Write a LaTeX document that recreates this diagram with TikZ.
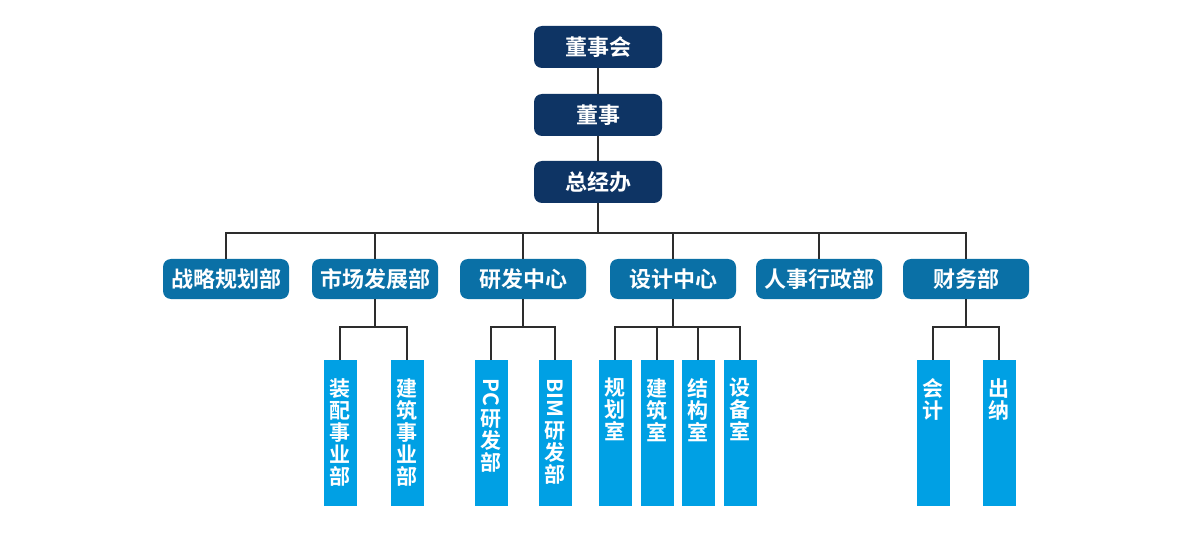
\documentclass[tikz,border=0pt]{standalone}
\usepackage{fontspec}
\usepackage{graphicx}
\newfontfamily\cjk{Noto Sans CJK SC}[BoldFont={Noto Sans CJK SC Bold}]
\definecolor{navy}{RGB}{14,52,100}
\definecolor{midblue}{RGB}{10,112,166}
\definecolor{lightblue}{RGB}{0,160,228}
\definecolor{linegray}{RGB}{45,45,45}
\begin{document}
\begin{tikzpicture}[x=1pt,y=-1pt,
  topbox/.style={fill=navy,rounded corners=8pt,minimum width=128pt,minimum height=42pt,inner sep=0pt,text=white,font=\cjk\bfseries\fontsize{22}{24}\selectfont},
  deptbox/.style={fill=midblue,rounded corners=8pt,minimum width=126pt,minimum height=40pt,inner sep=0pt,text=white,font=\cjk\bfseries\fontsize{22}{24}\selectfont},
  barbox/.style={fill=lightblue,minimum width=33pt,minimum height=146pt,inner sep=0pt,anchor=north},
  bartext/.style={text=white,font=\cjk\bfseries\fontsize{21}{22}\selectfont,align=center,anchor=north,inner sep=0pt},
  conn/.style={draw=linegray,line width=1.4pt}]
\useasboundingbox[fill=white] (0,0) rectangle (1200,548);
% top level
\node[topbox] (dsh) at (598,47) {董事会};
\node[topbox] (ds) at (598,115) {董事};
\node[topbox] (zjb) at (598,182) {总经办};
% departments
\node[deptbox] (zl) at (226,279) {战略规划部};
\node[deptbox] (sc) at (375,279) {市场发展部};
\node[deptbox] (yf) at (523,279) {研发中心};
\node[deptbox] (sj) at (673,279) {设计中心};
\node[deptbox] (rs) at (819,279) {人事行政部};
\node[deptbox] (cw) at (966,279) {财务部};
% bars
\node[barbox] (zp) at (340,360) {};
\node[barbox] (jz) at (407,360) {};
\node[barbox] (pc) at (491,360) {};
\node[barbox] (bim) at (555,360) {};
\node[barbox] (gh) at (615,360) {};
\node[barbox] (jzs) at (657,360) {};
\node[barbox] (jg) at (698,360) {};
\node[barbox] (sb) at (740,360) {};
\node[barbox] (kj) at (933,360) {};
\node[barbox] (cn) at (999,360) {};
% bar texts
\node[bartext] (tzp) at (340,378) {装\\配\\事\\业\\部};
\node[bartext] (tjz) at (407,378) {建\\筑\\事\\业\\部};
\node[bartext] (tpc) at (491,378) {\rotatebox{-90}{PC}\\[3pt]研\\发\\部};
\node[bartext] (tbim) at (555,378) {\rotatebox{-90}{BIM}\\[3pt]研\\发\\部};
\node[bartext] (tgh) at (615,378) {规\\划\\室};
\node[bartext] (tjzs) at (657,378) {建\\筑\\室};
\node[bartext] (tjg) at (698,378) {结\\构\\室};
\node[bartext] (tsb) at (740,378) {设\\备\\室};
\node[bartext] (tkj) at (933,378) {会\\计};
\node[bartext] (tcn) at (999,378) {出\\纳};
% connectors
\coordinate (bus) at (598,233);
\coordinate (jsc) at (375,327);
\coordinate (jyf) at (523,327);
\coordinate (jsj) at (673,327);
\coordinate (jcw) at (966,327);
\draw[conn] (dsh.south) -- (ds.north);
\draw[conn] (ds.south) -- (zjb.north);
\draw[conn] (zjb.south) -- (bus);
\foreach \n in {zl,sc,yf,sj,rs,cw} \draw[conn] (bus) -| (\n.north);
\draw[conn] (sc.south) -- (jsc);
\draw[conn] (jsc) -| (zp.north);
\draw[conn] (jsc) -| (jz.north);
\draw[conn] (yf.south) -- (jyf);
\draw[conn] (jyf) -| (pc.north);
\draw[conn] (jyf) -| (bim.north);
\draw[conn] (sj.south) -- (jsj);
\draw[conn] (jsj) -| (gh.north);
\draw[conn] (jsj) -| (jzs.north);
\draw[conn] (jsj) -| (jg.north);
\draw[conn] (jsj) -| (sb.north);
\draw[conn] (cw.south) -- (jcw);
\draw[conn] (jcw) -| (kj.north);
\draw[conn] (jcw) -| (cn.north);
\end{tikzpicture}
\end{document}
